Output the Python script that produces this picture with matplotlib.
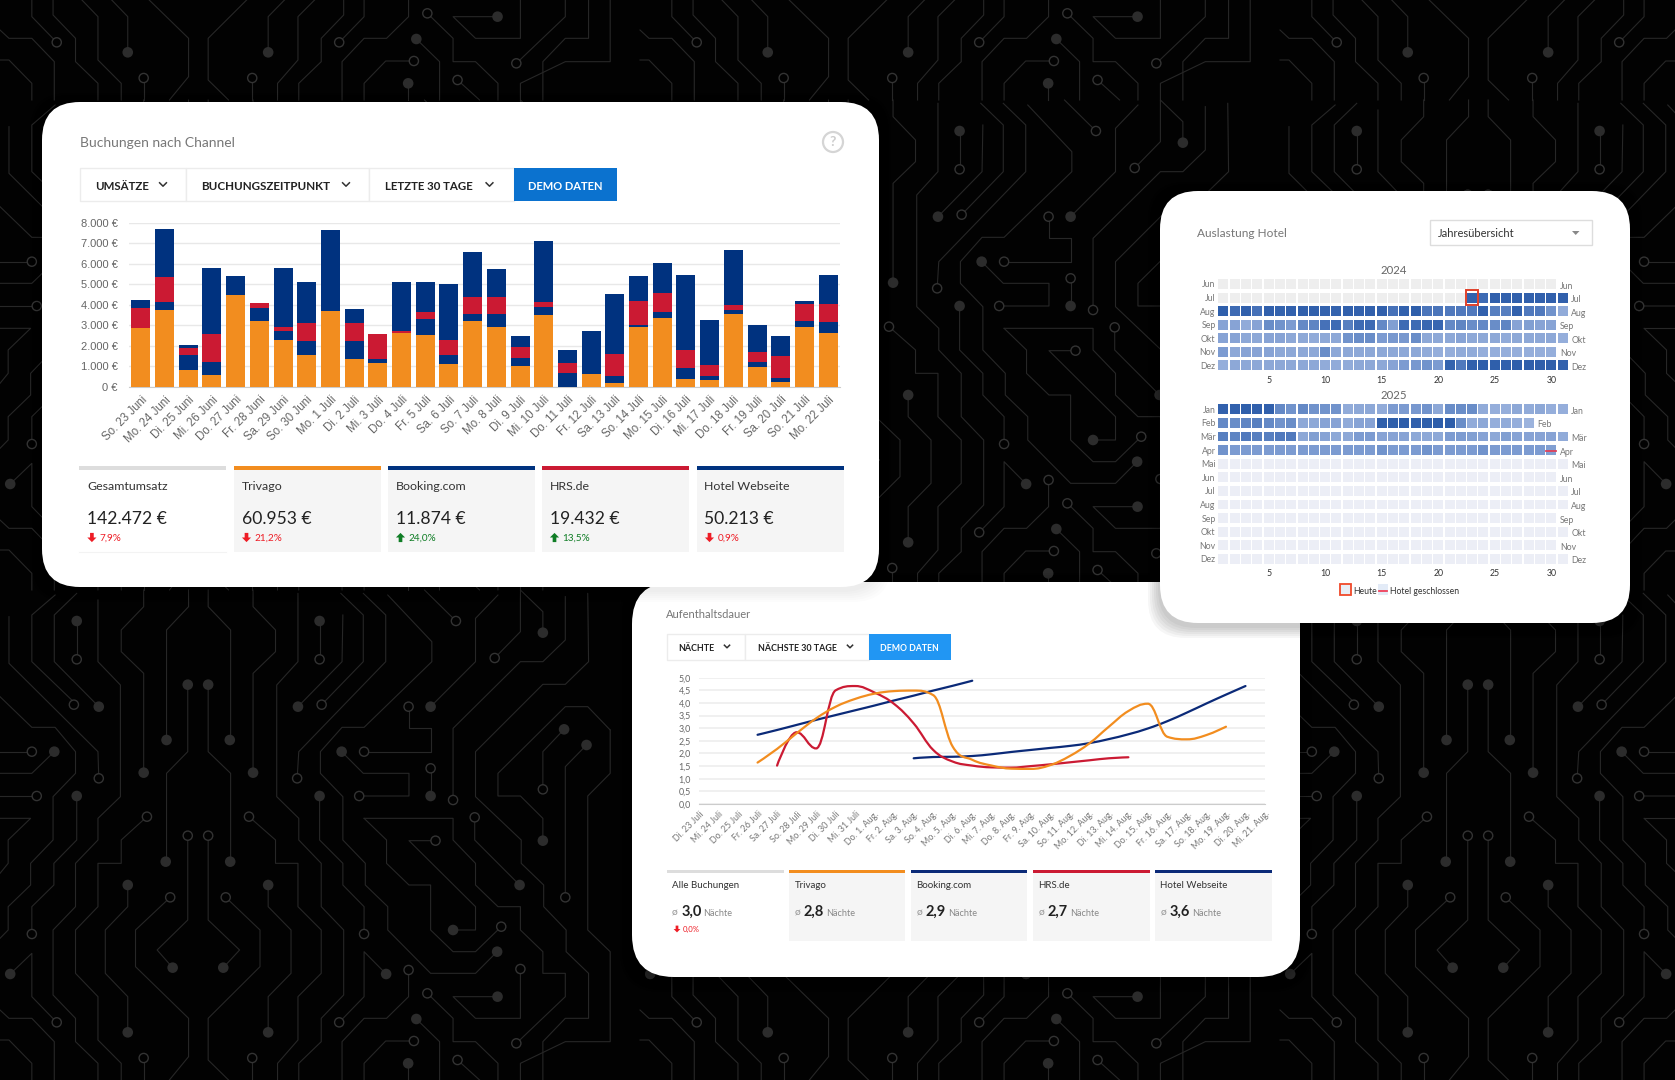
#!/usr/bin/env python
# coding: utf-8

import numpy as np
import matplotlib
matplotlib.use('Agg')
import matplotlib.pyplot as plt
from matplotlib.patches import FancyBboxPatch, Rectangle, Polygon, PathPatch, Circle
from matplotlib.path import Path
from matplotlib.colors import LinearSegmentedColormap, Normalize

W, H = 1675, 1080
plt.rcParams['font.family'] = ['Lato', 'DejaVu Sans']

# ---- bar chart data (Buchungen nach Channel)
bar_days = ['So. 23 Juni', 'Mo. 24 Juni', 'Di. 25 Juni', 'Mi. 26 Juni', 'Do. 27 Juni', 'Fr. 28 Juni',
            'Sa. 29 Juni', 'So. 30 Juni', 'Mo. 1 Juli', 'Di. 2 Juli', 'Mi. 3 Juli', 'Do. 4 Juli',
            'Fr. 5 Juli', 'Sa. 6 Juli', 'So. 7 Juli', 'Mo. 8 Juli', 'Di. 9 Juli', 'Mi. 10 Juli',
            'Do. 11 Juli', 'Fr. 12 Juli', 'Sa. 13 Juli', 'So. 14 Juli', 'Mo. 15 Juli', 'Di. 16 Juli',
            'Mi. 17 Juli', 'Do. 18 Juli', 'Fr. 19 Juli', 'Sa. 20 Juli', 'So. 21 Juli', 'Mo. 22 Juli']
trivago = [2890, 3765, 845, 570, 4460, 3215, 2300, 1560, 3715, 1380, 1170, 2630, 2530, 1100, 3230,
           2940, 1040, 3520, 0, 630, 180, 2905, 3375, 390, 340, 3555, 990, 245, 2920, 2615]
booking = [0, 390, 715, 665, 0, 645, 410, 680, 0, 840, 180, 0, 780, 440, 325,
           615, 355, 360, 665, 115, 370, 130, 295, 550, 180, 195, 230, 195, 310, 565]
hrs = [940, 1200, 340, 1345, 0, 230, 230, 875, 0, 880, 1215, 110, 340, 760, 845,
       845, 565, 240, 485, 0, 1040, 1135, 905, 860, 570, 260, 470, 1070, 795, 860]
webseite = [390, 2325, 130, 3230, 945, 10, 2870, 1995, 3945, 680, 0, 2355, 1445, 2715, 2155,
            1360, 520, 2970, 650, 1965, 2940, 1250, 1465, 3635, 2170, 2645, 1330, 960, 165, 1400]
bar_yticks = [0, 1000, 2000, 3000, 4000, 5000, 6000, 7000, 8000]
bar_ylabels = ['0 €', '1.000 €', '2.000 €', '3.000 €', '4.000 €', '5.000 €', '6.000 €', '7.000 €', '8.000 €']

stat_names = ['Gesamtumsatz', 'Trivago', 'Booking.com', 'HRS.de', 'Hotel Webseite']
stat_values = ['142.472 €', '60.953 €', '11.874 €', '19.432 €', '50.213 €']
stat_deltas = ['7,9%', '21,2%', '24,0%', '13,5%', '0,9%']
stat_down = [True, True, False, False, True]

# ---- line chart data (Aufenthaltsdauer)
line_days = ['Di. 23 Juli', 'Mi. 24 Juli', 'Do. 25 Juli', 'Fr. 26 Juli', 'Sa. 27 Juli', 'So. 28 Juli',
             'Mo. 29 Juli', 'Di. 30 Juli', 'Mi. 31 Juli', 'Do. 1. Aug.', 'Fr. 2. Aug.', 'Sa. 3. Aug.',
             'So. 4. Aug.', 'Mo. 5. Aug.', 'Di. 6. Aug.', 'Mi. 7. Aug.', 'Do. 8. Aug.', 'Fr. 9. Aug.',
             'Sa. 10. Aug.', 'So. 11. Aug.', 'Mo. 12. Aug.', 'Di. 13. Aug.', 'Mi. 14. Aug.', 'Do. 15. Aug.',
             'Fr. 16. Aug.', 'Sa. 17. Aug.', 'So. 18. Aug.', 'Mo. 19. Aug.', 'Di. 20. Aug.', 'Mi. 21. Aug.']
booking_start = 3
booking_nights = [2.74, 2.93, 3.13, 3.33, 3.52, 3.71, 3.90, 4.10, 4.29, 4.49, 4.68, 4.88]
webseite_start = 11
webseite_nights = [1.81, 1.86, 1.87, 1.90, 1.97, 2.06, 2.14, 2.22, 2.30, 2.41, 2.57, 2.76, 2.99, 3.28,
                   3.62, 3.98, 4.33, 4.67]
hrs_start = 4
hrs_nights = [1.52, 2.84, 2.20, 4.50, 4.67, 4.41, 3.96, 3.19, 2.14, 1.68, 1.52, 1.45, 1.44, 1.50, 1.57,
              1.65, 1.73, 1.81, 1.85]
trivago_start = 3
trivago_nights = [1.64, 2.18, 2.80, 3.39, 3.85, 4.16, 4.37, 4.47, 4.49, 4.31, 2.27, 1.75, 1.52, 1.40, 1.39,
                  1.54, 1.90, 2.40, 3.06, 3.68, 3.97, 2.66, 2.56, 2.73, 3.06]
line_yticks = [0, 0.5, 1, 1.5, 2, 2.5, 3, 3.5, 4, 4.5, 5]
line_ylabels = ['0,0', '0,5', '1,0', '1,5', '2,0', '2,5', '3,0', '3,5', '4,0', '4,5', '5,0']

night_names = ['Alle Buchungen', 'Trivago', 'Booking.com', 'HRS.de', 'Hotel Webseite']
night_values = ['3,0', '2,8', '2,9', '2,7', '3,6']

# ---- heatmap data (Auslastung Hotel), 0 = no value
months_2024 = ['Jun', 'Jul', 'Aug', 'Sep', 'Okt', 'Nov', 'Dez']
occ_2024 = [
    [0] * 30,
    [0] * 22 + [88, 75, 90, 90, 90, 90, 90, 90, 90],
    [92, 75, 90, 72, 90, 85, 88, 90, 90, 85, 85, 90, 88, 90, 90, 72, 88, 92, 70, 70, 68, 68, 68, 88, 65, 65, 88, 68, 68, 55, 40],
    [45, 45, 40, 45, 58, 55, 50, 60, 62, 72, 75, 65, 75, 75, 60, 48, 75, 75, 78, 80, 60, 62, 58, 60, 58, 62, 45, 48, 45, 45],
    [45, 45, 42, 42, 45, 45, 42, 42, 40, 42, 42, 55, 58, 58, 50, 52, 52, 58, 42, 42, 42, 45, 42, 42, 42, 40, 42, 42, 42, 42, 38],
    [50, 42, 45, 45, 45, 42, 42, 42, 42, 58, 42, 42, 42, 42, 42, 42, 42, 42, 40, 38, 38, 40, 40, 38, 38, 38, 38, 38, 38, 38],
    [38, 42, 42, 42, 42, 42, 42, 42, 42, 40, 40, 40, 42, 42, 42, 45, 50, 52, 55, 50, 85, 68, 90, 92, 92, 90, 92, 92, 92, 92, 88],
]
months_2025 = ['Jan', 'Feb', 'Mär', 'Apr', 'Mai', 'Jun', 'Jul', 'Aug', 'Sep', 'Okt', 'Nov', 'Dez']
occ_2025 = [
    [88, 88, 92, 90, 90, 60, 55, 60, 55, 55, 55, 40, 42, 42, 40, 50, 50, 52, 55, 42, 58, 58, 58, 40, 38, 38, 42, 40, 42, 38, 38],
    [60, 58, 62, 65, 60, 55, 58, 42, 42, 45, 45, 40, 45, 45, 92, 92, 95, 90, 92, 95, 95, 58, 40, 42, 38, 40, 38, 35],
    [65, 62, 68, 65, 65, 68, 68, 42, 48, 45, 42, 42, 50, 50, 45, 45, 45, 42, 42, 42, 50, 50, 48, 45, 42, 48, 45, 45, 45, 45, 40],
    [55, 50, 50, 50, 50, 50, 50, 50, 50, 50, 50, 50, 50, 50, 55, 50, 50, 50, 55, 50, 50, 50, 50, 55, 50, 50, 50, 50, 50, 48],
    [0] * 31, [0] * 30, [0] * 31, [0] * 31, [0] * 30, [0] * 31, [0] * 30, [0] * 31,
]
heat_ticks = [5, 10, 15, 20, 25, 30]

ORANGE = '#f28d1f'
NAVY = '#00327f'
RED = '#cb1a33'
LINE_NAVY = '#0b2a78'
GRID = '#e8e8e8'
TEXT = '#222222'


# ---- helpers
fig = plt.figure(figsize=(W / 100, H / 100), dpi=100, facecolor='#020202')
base = fig.add_axes([0, 0, 1, 1])
base.set_xlim(0, W)
base.set_ylim(H, 0)
base.axis('off')


def px_axes(x0, y0, x1, y1):
    a = fig.add_axes([x0 / W, 1 - y1 / H, (x1 - x0) / W, (y1 - y0) / H])
    a.patch.set_alpha(0)
    return a


def label(x, y, s, size, color=TEXT, weight='normal', ha='left', **kw):
    base.text(x, y + 1, s, fontsize=size, color=color, fontweight=weight, ha=ha, va='center', zorder=20, **kw)


def card(x0, y0, x1, y1, r, z, shade):
    # soft shadow first
    for k in range(6):
        g = 2 + k * 2
        base.add_patch(FancyBboxPatch((x0 - g + r, y0 + 3 - g + r), x1 - x0 + 2 * g - 2 * r, y1 - y0 + 2 * g - 2 * r,
                                      boxstyle='round,pad=%d,rounding_size=%d' % (r, r), fc='black', ec='none',
                                      alpha=shade, zorder=z))
    base.add_patch(FancyBboxPatch((x0 + r, y0 + r), x1 - x0 - 2 * r, y1 - y0 - 2 * r,
                                  boxstyle='round,pad=%d,rounding_size=%d' % (r, r), fc='white', ec='none', zorder=z))


def chevron(x, y, s, color='#333333', lw=1.1):
    base.plot([x - s, x, x + s], [y - s / 2, y + s / 2, y - s / 2], color=color, lw=lw, zorder=20)


def arrow(x, y, s, down, color):
    d = 1 if down else -1
    pts = [(x - s * 0.4, y - d * s), (x + s * 0.4, y - d * s), (x + s * 0.4, y), (x + s, y), (x, y + d * s),
           (x - s, y), (x - s * 0.4, y)]
    base.add_patch(Polygon(pts, fc=color, ec='none', zorder=20))


def spline_path(xs, ys, smoothing=1.5):
    # cubic curve through the daily values
    verts = [(xs[0], ys[0])]
    codes = [Path.MOVETO]
    n = len(xs)
    left = [(xs[0], ys[0])] * n
    right = [(xs[0], ys[0])] * n
    for i in range(1, n - 1):
        lx = (smoothing * xs[i] + xs[i - 1]) / (smoothing + 1)
        ly = (smoothing * ys[i] + ys[i - 1]) / (smoothing + 1)
        rx = (smoothing * xs[i] + xs[i + 1]) / (smoothing + 1)
        ry = (smoothing * ys[i] + ys[i + 1]) / (smoothing + 1)
        c = (ry - ly) * (rx - xs[i]) / (rx - lx) + ys[i] - ry
        ly += c
        ry += c
        if ly > ys[i - 1] and ly > ys[i]:
            ly = max(ys[i - 1], ys[i])
            ry = 2 * ys[i] - ly
        elif ly < ys[i - 1] and ly < ys[i]:
            ly = min(ys[i - 1], ys[i])
            ry = 2 * ys[i] - ly
        if ry > ys[i + 1] and ry > ys[i]:
            ry = max(ys[i + 1], ys[i])
            ly = 2 * ys[i] - ry
        elif ry < ys[i + 1] and ry < ys[i]:
            ry = min(ys[i + 1], ys[i])
            ly = 2 * ys[i] - ry
        left[i] = (lx, ly)
        right[i] = (rx, ry)
    left[n - 1] = (xs[n - 1], ys[n - 1])
    right[0] = (xs[0], ys[0])
    for i in range(1, n):
        verts += [right[i - 1], left[i], (xs[i], ys[i])]
        codes += [Path.CURVE4] * 3
    return Path(verts, codes)


# ---- circuit board background, traced in one tile and repeated
traces = [
    [(135, 15), (78, 75), (78, 215), (180, 335)], [(188, 10), (133, 75), (133, 215), (242, 350)],
    [(188, 93), (188, 208)],
    [(240, 30), (240, 215), (295, 285), (295, 620), (240, 685), (240, 750), (185, 820), (185, 950), (130, 1020),
     (130, 1215), (185, 1285), (185, 1355), (240, 1420), (240, 1470)],
    [(352, 0), (352, 50), (297, 120), (297, 185), (352, 250), (352, 548)],
    [(462, 0), (462, 50), (408, 120), (408, 450)], [(460, 284), (460, 485), (408, 550), (408, 815)],
    [(510, 284), (510, 485), (565, 550), (565, 815)], [(510, 0), (510, 50), (565, 120), (565, 450)],
    [(620, 0), (620, 50), (675, 120), (675, 185), (620, 250), (620, 548)],
    [(730, 10), (730, 215), (678, 285), (678, 620), (732, 685), (732, 750), (787, 820), (787, 950), (842, 1020),
     (842, 1215), (787, 1285), (787, 1355), (732, 1420), (732, 1470)],
    [(783, 93), (783, 208)], [(840, 75), (838, 215), (730, 350)], [(835, 10), (890, 75), (890, 215), (788, 344)],
    [(890, 10), (945, 75), (945, 215), (732, 485), (728, 565)],
    [(950, 15), (1058, 155), (1058, 215), (892, 412), (838, 412), (785, 485), (785, 550), (840, 620), (840, 750),
     (895, 820), (895, 885), (950, 950), (950, 1020), (1055, 1150), (1165, 1150), (1218, 1085)],
    [(1001, 350), (1001, 415), (1055, 415), (1055, 485), (892, 485)],
    [(837, 485), (890, 550), (1002, 550), (1002, 618), (880, 618)], [(1055, 535), (1055, 618)],
    [(1055, 350), (1165, 215), (1165, 85), (1220, 15)], [(1117, 93), (1040, 0)],
    [(1212, 204), (1275, 125), (1275, 0), (1330, 65), (1330, 128)],
    [(1385, 20), (1385, 150), (1330, 215), (1275, 215), (1110, 415), (1110, 630)],
    [(1440, 10), (1442, 215), (1385, 283), (1330, 283), (1165, 485), (1165, 620), (1277, 750), (1277, 820),
     (1332, 885), (1332, 950), (1387, 1020), (1387, 1085), (1442, 1150), (1442, 1285), (1385, 1285), (1330, 1355),
     (1330, 1470)],
    [(0, 320), (78, 412), (135, 412), (185, 485), (185, 550), (130, 620), (130, 750), (75, 820), (75, 885),
     (20, 950), (20, 1020), (0, 1045)],
    [(22, 80), (22, 220), (240, 485), (242, 565)], [(0, 485), (78, 485)], [(0, 550), (78, 550), (133, 485)],
    [(0, 618), (90, 618)], [(188, 618), (188, 750), (132, 820), (132, 885), (78, 950), (78, 1032)],
    [(0, 685), (75, 685), (20, 750), (20, 820), (0, 850)],
    [(360, 680), (297, 750), (297, 820), (240, 820), (240, 950), (185, 1020), (185, 1150), (240, 1220), (240, 1350),
     (297, 1420), (297, 1470)],
    [(610, 680), (675, 750), (675, 820), (730, 820), (730, 950), (787, 1020), (787, 1150), (730, 1220), (730, 1350),
     (680, 1420), (680, 1470)],
    [(460, 737), (460, 990), (385, 1080), (423, 1133)], [(510, 737), (510, 990), (587, 1080), (547, 1133)],
    [(313, 885), (313, 950), (258, 1020), (258, 1150), (313, 1220), (313, 1327)],
    [(657, 885), (657, 950), (713, 1020), (713, 1150), (657, 1220), (657, 1327)],
    [(417, 922), (332, 1020), (332, 1130), (462, 1285), (462, 1400), (415, 1470)],
    [(553, 922), (637, 1020), (637, 1130), (510, 1285), (510, 1410), (560, 1470)],
    [(25, 1152), (78, 1090), (78, 1220), (139, 1297)], [(0, 1260), (22, 1285), (78, 1285), (133, 1355), (133, 1470)],
    [(0, 1350), (22, 1350), (78, 1420), (78, 1470)], [(352, 1404), (352, 1470)], [(618, 1404), (618, 1470)],
    [(892, 685), (1110, 685), (1110, 750), (1165, 820), (1165, 885), (1220, 950), (1275, 950), (1275, 1020),
     (1330, 1085), (1330, 1150), (1385, 1150), (1385, 1220), (1265, 1360)],
    [(892, 685), (947, 750), (947, 820), (1002, 885), (1055, 885), (1055, 1020), (1110, 1085), (1165, 1085), (1228, 1010)],
    [(1067, 752), (1002, 752), (1165, 950), (1165, 1020), (1110, 1020)], [(1163, 682), (1163, 750), (1273, 885)],
    [(783, 618), (783, 750), (840, 820), (840, 885), (892, 950), (892, 1032)],
    [(946, 1152), (892, 1085), (892, 1220), (831, 1297)],
    [(1001, 1140), (1001, 1220), (947, 1285), (892, 1285), (838, 1355), (838, 1470)],
    [(1047, 1210), (1110, 1285), (1110, 1355), (1165, 1355), (1220, 1420), (1220, 1470)],
    [(1219, 1220), (1110, 1220), (1165, 1285), (1275, 1285), (1275, 1137)],
    [(1020, 1287), (1077, 1355), (1077, 1470)], [(1014, 1353), (945, 1353), (892, 1420), (892, 1470)],
    [(1121, 1410), (1175, 1470)], [(1000, 1420), (1000, 1470)],
    [(1495, 420), (1440, 350), (1385, 350), (1220, 550), (1220, 618), (1275, 618), (1330, 685), (1330, 752)],
    [(1382, 418), (1330, 485), (1330, 598)], [(1437, 465), (1385, 530), (1385, 922)],
    [(1495, 420), (1495, 550), (1440, 618), (1440, 1020), (1495, 1085), (1495, 1355), (1385, 1355), (1275, 1420),
     (1275, 1470)],
]
dots = [(188, 93), (242, 350), (352, 548), (408, 450), (460, 284), (510, 284), (563, 450), (620, 548), (783, 93),
        (730, 350), (1055, 350), (1330, 128), (837, 485), (133, 485), (188, 618), (406, 815), (564, 815), (313, 885),
        (657, 885), (423, 1133), (547, 1133), (313, 1327), (657, 1327), (25, 1152), (783, 618), (1055, 618),
        (1218, 1085), (1110, 1020), (1273, 885), (946, 1152), (1219, 1220), (1020, 1287), (1000, 1420),
        (1382, 418), (1437, 465), (1330, 752)]
rings = [(181, 344), (188, 208), (78, 485), (90, 618), (242, 565), (78, 1032), (360, 680), (610, 680), (460, 737),
         (510, 737), (417, 922), (553, 922), (139, 1297), (352, 1404), (618, 1404), (783, 208), (788, 344),
         (728, 565), (1001, 350), (892, 485), (880, 618), (1055, 535), (1117, 93), (1212, 204), (1110, 630),
         (1265, 1360), (1228, 1010), (1067, 752), (1163, 682), (892, 1032), (831, 1297), (1001, 1140), (1047, 1210),
         (1275, 1137), (1014, 1353), (1121, 1410), (1330, 598), (1385, 922)]
for ox, oy in [(0, 590), (0, 100), (0, -390), (640, 590), (640, 100), (640, -390), (1280, 590), (1280, 100), (1280, -390)]:
    for tr in traces:
        base.plot([p[0] / 2.45 + ox for p in tr], [p[1] / 3 + oy for p in tr], color='#272727', lw=0.8, zorder=1,
                  solid_joinstyle='round')
    for p in dots:
        base.add_patch(Circle((p[0] / 2.45 + ox, p[1] / 3 + oy), 5.3, fc='#2c2c2c', ec='none', zorder=2))
    for p in rings:
        base.add_patch(Circle((p[0] / 2.45 + ox, p[1] / 3 + oy), 4.6, fc='#020202', ec='#333333', lw=1.0, zorder=2))

# ---- cards
card(632, 582, 1300, 977, 42, 5, 0.035)
card(42, 102, 879, 587, 38, 6, 0.012)
card(1160, 191, 1630, 623, 38, 7, 0.035)

# ---- card 1: Buchungen nach Channel
label(79.5, 142, 'Buchungen nach Channel', 10, '#777777')
base.add_patch(Circle((833, 142), 10, fc='white', ec='#d5d5d5', lw=1.6, zorder=20))
label(833, 141, '?', 10, '#cccccc', 'bold', ha='center')
for x0, x1 in [(79.5, 185.5), (185.5, 368.7), (368.7, 513.6)]:
    base.add_patch(Rectangle((x0, 168.3), x1 - x0, 32.7, fc='white', ec='#ececec', lw=1, zorder=19))
base.add_patch(Rectangle((513.6, 168.3), 103, 32.7, fc='#0b72cf', ec='none', zorder=19))
label(95, 185, 'UMSÄTZE', 8.3, '#222222', 'bold')
chevron(163, 184.5, 3.4)
label(201, 185, 'BUCHUNGSZEITPUNKT', 8.4, '#222222', 'bold')
chevron(346, 184.5, 3.4)
label(385, 185, 'LETZTE 30 TAGE', 8.3, '#222222', 'bold')
chevron(489.5, 184.5, 3.4)
label(565, 185, 'DEMO DATEN', 8, 'white', 'bold', ha='center')

ax1 = px_axes(129, 222.7, 840, 387)
x = np.arange(len(bar_days))
s1 = np.array(trivago)
s2 = s1 + np.array(booking)
s3 = s2 + np.array(hrs)
ax1.bar(x, trivago, width=0.8, color=ORANGE, zorder=3)
ax1.bar(x, booking, width=0.8, bottom=s1, color=NAVY, zorder=3)
ax1.bar(x, hrs, width=0.8, bottom=s2, color=RED, zorder=3)
ax1.bar(x, webseite, width=0.8, bottom=s3, color=NAVY, zorder=3)
ax1.set_xlim(-0.5, 29.5)
ax1.set_ylim(0, 8000)
ax1.set_yticks(bar_yticks)
ax1.set_yticklabels(bar_ylabels, family='Liberation Sans', fontsize=8, color='#666666')
ax1.set_xticks(x)
ax1.set_xticklabels(bar_days, family='Liberation Sans', fontsize=8.3, color='#666666', rotation=45, ha='right',
                    rotation_mode='anchor', va='top')
ax1.tick_params(length=0, axis='y', pad=8)
ax1.tick_params(length=0, axis='x', pad=5)
ax1.grid(axis='y', color=GRID, lw=1, zorder=0)
ax1.set_axisbelow(True)
for sp in ['top', 'right', 'left']:
    ax1.spines[sp].set_visible(False)
ax1.spines['bottom'].set_color('#cccccc')

stat_x = [(79.4, 226), (234, 381), (388, 534.5), (542, 689), (697, 843.7)]
stat_col = ['#dddddd', ORANGE, NAVY, RED, NAVY]
for i in range(5):
    x0, x1 = stat_x[i]
    if i > 0:
        base.add_patch(Rectangle((x0, 466), x1 - x0, 86, fc='#f5f5f5', ec='none', zorder=18))
    else:
        base.plot([x0, x1], [552, 552], color='#f3f3f3', lw=0.8, zorder=18)
    base.add_patch(Rectangle((x0, 466), x1 - x0, 4, fc=stat_col[i], ec='none', zorder=19))
    label(x0 + 7.5, 485, stat_names[i], 8.9, '#333333')
    label(x0 + 7.5, 518, stat_values[i], 12.6, '#222222')
    col = '#ee1c25' if stat_down[i] else '#0f7d25'
    arrow(x0 + 12.5, 537.5, 4.6, stat_down[i], col)
    label(x0 + 20.5, 537.5, stat_deltas[i], 7.2, col)

# ---- card 3: Aufenthaltsdauer
label(666, 613, 'Aufenthaltsdauer', 8, '#777777')
for x0, x1 in [(666.6, 745.4), (745.4, 868.5)]:
    base.add_patch(Rectangle((x0, 634.3), x1 - x0, 26, fc='white', ec='#ececec', lw=1, zorder=19))
base.add_patch(Rectangle((868.5, 634.3), 82, 26, fc='#2196f3', ec='none', zorder=19))
label(678.5, 647.5, 'NÄCHTE', 6.4, '#222222', 'bold')
chevron(727, 646.5, 2.6)
label(758, 647.5, 'NÄCHSTE 30 TAGE', 6.4, '#222222', 'bold')
chevron(850, 646.5, 2.6)
label(909.5, 647.5, 'DEMO DATEN', 6.2, 'white', 'bold', ha='center')

ax2 = px_axes(699, 677.7, 1265, 804)
ax2.set_xlim(0, 29)
ax2.set_ylim(0, 5)
series = [(booking_start, booking_nights, LINE_NAVY), (webseite_start, webseite_nights, LINE_NAVY),
          (hrs_start, hrs_nights, RED), (trivago_start, trivago_nights, ORANGE)]
for start, vals, col in series:
    xs = list(range(start, start + len(vals)))
    ax2.add_patch(PathPatch(spline_path(xs, vals), fc='none', ec=col, lw=1.6, zorder=3, capstyle='round'))
ax2.set_yticks(line_yticks)
ax2.set_yticklabels(line_ylabels, fontsize=6.4, color='#666666')
ax2.set_xticks(range(len(line_days)))
ax2.set_xticklabels(line_days, fontsize=6.4, color='#777777', rotation=45, ha='right', rotation_mode='anchor', va='top')
ax2.tick_params(length=0, axis='y', pad=6)
ax2.tick_params(length=0, axis='x', pad=4)
ax2.grid(axis='y', color='#eeeeee', lw=1.2, zorder=0)
ax2.set_axisbelow(True)
for sp in ['top', 'right', 'left']:
    ax2.spines[sp].set_visible(False)
ax2.spines['bottom'].set_color('#cccccc')

night_x = [(666.6, 783.5), (789, 905), (911, 1027), (1032.7, 1149.6), (1155, 1271.5)]
night_col = ['#dddddd', ORANGE, LINE_NAVY, RED, LINE_NAVY]
for i in range(5):
    x0, x1 = night_x[i]
    if i > 0:
        base.add_patch(Rectangle((x0, 870), x1 - x0, 71, fc='#f5f5f5', ec='none', zorder=18))
    base.add_patch(Rectangle((x0, 869.5), x1 - x0, 3.2, fc=night_col[i], ec='none', zorder=19))
    label(x0 + 5.5, 884.5, night_names[i], 7, '#333333')
    label(x0 + 5.5, 912.5, 'ø', 7.5, '#999999')
    label(x0 + 15, 911, night_values[i], 10.5, '#222222', 'bold')
    label(x0 + 37, 912.5, 'Nächte', 6.6, '#888888')
arrow(677, 929, 3.4, True, '#ee1c25')
label(682.5, 928.5, '0,0%', 5.6, '#ee1c25')

# ---- card 2: Auslastung Hotel
label(1197, 232.7, 'Auslastung Hotel', 8.6, '#777777')
base.add_patch(Rectangle((1430.3, 220.3), 161.4, 25, fc='white', ec='#dddddd', lw=1, zorder=19))
label(1438, 232.7, 'Jahresübersicht', 8, '#333333')
base.add_patch(Polygon([(1572, 231), (1579.5, 231), (1575.7, 235)], fc='#888888', ec='none', zorder=20))
label(1394, 269, '2024', 8.2, '#666666', ha='center')
label(1394, 394.5, '2025', 8.2, '#666666', ha='center')

cmap = LinearSegmentedColormap.from_list('occ', ['#a6bbe1', '#7596ce', '#3a68b2', '#2a5aa8'])
norm = Normalize(30, 100)


def draw_year(a, months, rows, empty):
    for r, row in enumerate(rows):
        days = np.arange(1, len(row) + 1)
        cols = [cmap(norm(v)) if v > 0 else empty for v in row]
        a.barh(np.full(len(row), r), [0.887] * len(row), left=days - 0.4435, height=0.735, color=cols, zorder=2)
        a.text(len(row) + 0.75, r + 0.15, months[r], fontsize=6.3, color='#777777', ha='left', va='center')
    a.set_xlim(0.5, 31.5)
    a.set_ylim(len(rows) - 0.5, -0.5)
    a.set_yticks(range(len(rows)))
    a.set_yticklabels(months, fontsize=6.3, color='#777777')
    a.set_xticks(heat_ticks)
    a.set_xticklabels(heat_ticks, fontsize=6.3, color='#333333')
    a.tick_params(length=0, axis='y', pad=1.5)
    a.tick_params(length=0, axis='x', pad=2.5)
    for lab in a.get_yticklabels():
        lab.set_y(lab.get_position()[1])
    for sp in a.spines.values():
        sp.set_visible(False)


ax3 = px_axes(1217.7, 277.2, 1568.3, 372.2)
draw_year(ax3, months_2024, occ_2024, '#eeeeee')
ax3.add_patch(Rectangle((22.45, 0.45), 1.1, 1.1, fc='none', ec='#e0402a', lw=1.4, zorder=4))

ax4 = px_axes(1217.7, 402.5, 1568.3, 565.7)
draw_year(ax4, months_2025, occ_2025, '#eceef6')
ax4.plot([29.56, 30.44], [3.05, 3.05], color='#e0405a', lw=1.3, zorder=4)

base.add_patch(Rectangle((1340, 584), 11, 11, fc='#e8eef6', ec='#f0492a', lw=1.3, zorder=20))
label(1353, 590, 'Heute', 6.2, '#333333')
base.add_patch(Rectangle((1378, 584), 10, 11, fc='#e3ebf7', ec='none', zorder=20))
base.plot([1379, 1387], [591, 591], color='#f0405a', lw=1.3, zorder=21)
label(1390.5, 590, 'Hotel geschlossen', 6.2, '#333333')

fig.savefig('out.png', dpi=100, facecolor=fig.get_facecolor())
